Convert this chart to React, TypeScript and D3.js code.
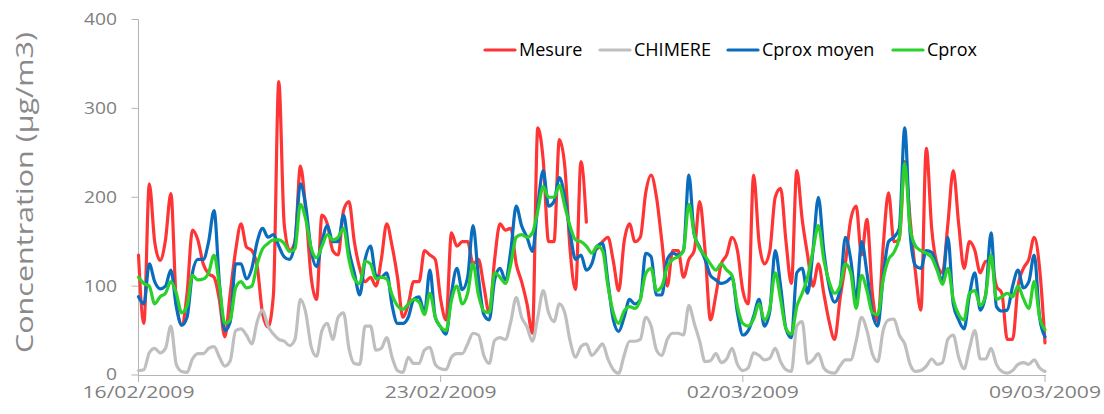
import * as d3 from "d3";

// hourly data resampled every 3 h, 16/02/2009 00:00 -> 09/03/2009 00:00
const START = new Date(2009, 1, 16);
const END = new Date(2009, 2, 9);
const STEP_HOURS = 3;

const X_TICKS = [
  new Date(2009, 1, 16),
  new Date(2009, 1, 23),
  new Date(2009, 2, 2),
  new Date(2009, 2, 9),
];
const Y_TICKS = [0, 100, 200, 300, 400];

const MESURE: (number | null)[] = [
  135, 58, 215, 150, 129, 152, 204, 84, 56, 92, 163, 152, 125, 114, 110, 84, 43, 92, 140, 170,
  144, 140, 122, 69, 54, 90, 330, 170, 140, 150, 235, 185, 110, 85, 180, 170, 140, 135, 185, 195,
  150, 120, 105, 110, 100, 130, 170, 145, 110, 65, 80, 105, 105, 140, 135, 130, 85, 62, 160, 145,
  150, 150, 125, 130, 100, 70, 130, 170, 163, 165, 125, 105, 80, 47, 278, 242, 150, 150, 265, 235,
  140, 96, 240, 172, null, 142, 150, 155, 128, 95, 150, 170, 150, 155, 205, 225, 200, 150, 100, 140,
  140, 110, 130, 140, 195, 140, 62, 90, 125, 135, 155, 140, 95, 80, 225, 150, 125, 140, 200, 210,
  150, 103, 230, 175, 135, 100, 125, 92, 60, 40, 85, 125, 175, 190, 135, 175, 92, 60, 144, 205,
  150, 152, 240, 175, 115, 73, 255, 165, 125, 115, 170, 230, 170, 120, 150, 140, 115, 128, 128, 100,
  92, 40, 40, 100, 120, 130, 155, 120, 36,
];

const CHIMERE = [
  5, 6, 25, 30, 25, 30, 55, 12, 4, 3, 18, 24, 24, 30, 32, 20, 10, 16, 50, 52,
  45, 35, 60, 73, 55, 46, 40, 38, 33, 40, 85, 70, 32, 21, 50, 58, 40, 65, 70, 30,
  13, 12, 55, 55, 28, 30, 42, 20, 5, 3, 20, 13, 13, 28, 31, 12, 7, 6, 20, 24,
  24, 35, 47, 45, 22, 13, 39, 42, 40, 60, 87, 65, 54, 38, 65, 95, 70, 60, 80, 70,
  38, 20, 32, 35, 22, 28, 35, 18, 6, 2, 22, 38, 38, 40, 65, 55, 28, 22, 40, 47,
  47, 45, 78, 58, 38, 15, 16, 24, 14, 18, 30, 12, 5, 8, 25, 22, 17, 19, 30, 15,
  6, 4, 55, 60, 13, 17, 24, 8, 3, 2, 10, 17, 17, 38, 65, 50, 24, 15, 50, 62,
  63, 45, 35, 12, 4, 5, 10, 18, 12, 14, 40, 45, 20, 7, 30, 50, 18, 18, 30, 12,
  4, 2, 5, 12, 14, 12, 17, 8, 4,
];

const CPROX_MOYEN = [
  88, 80, 125, 105, 97, 100, 118, 77, 56, 65, 115, 130, 130, 150, 185, 103, 50, 60, 125, 125,
  108, 120, 150, 165, 155, 158, 145, 133, 130, 150, 215, 190, 140, 122, 150, 168, 150, 150, 180, 140,
  115, 90, 130, 145, 112, 110, 115, 78, 58, 58, 65, 85, 88, 70, 118, 65, 54, 46, 92, 120,
  96, 110, 168, 110, 68, 62, 107, 120, 107, 140, 190, 168, 155, 139, 190, 230, 190, 195, 222, 200,
  160, 130, 135, 118, 125, 145, 148, 105, 62, 49, 65, 85, 80, 85, 137, 133, 90, 90, 130, 137,
  135, 140, 225, 158, 144, 130, 112, 107, 103, 105, 110, 70, 45, 50, 66, 85, 55, 72, 140, 100,
  52, 42, 115, 120, 92, 140, 200, 140, 100, 82, 95, 155, 130, 85, 150, 115, 70, 55, 110, 150,
  155, 165, 278, 160, 123, 120, 140, 138, 122, 105, 155, 80, 62, 52, 90, 115, 73, 90, 160, 77,
  72, 73, 100, 118, 98, 105, 135, 65, 43,
];

const CPROX = [
  110, 103, 100, 80, 88, 92, 105, 92, 70, 78, 112, 107, 108, 115, 135, 100, 58, 62, 98, 105,
  98, 100, 125, 142, 148, 152, 152, 148, 139, 142, 192, 175, 143, 132, 145, 158, 152, 155, 165, 130,
  108, 103, 128, 125, 108, 110, 108, 90, 78, 74, 80, 85, 82, 68, 92, 65, 54, 50, 84, 100,
  80, 92, 125, 90, 72, 70, 115, 110, 103, 125, 155, 158, 155, 160, 185, 212, 200, 200, 213, 190,
  167, 152, 150, 145, 137, 145, 140, 100, 70, 58, 72, 77, 75, 85, 114, 120, 95, 100, 122, 130,
  133, 140, 192, 158, 142, 134, 125, 118, 125, 118, 112, 77, 58, 55, 63, 80, 62, 75, 115, 85,
  52, 46, 77, 92, 110, 140, 168, 130, 105, 92, 100, 125, 115, 75, 112, 95, 70, 68, 107, 130,
  138, 155, 238, 165, 145, 140, 137, 132, 118, 102, 120, 85, 68, 62, 92, 95, 78, 90, 135, 85,
  88, 92, 88, 100, 86, 75, 105, 65, 51,
];

const SERIES = [
  { name: "Mesure", values: MESURE, color: "#ff3535" },
  { name: "CHIMERE", values: CHIMERE, color: "#bfbfbf" },
  { name: "Cprox moyen", values: CPROX_MOYEN, color: "#0a6cbd" },
  { name: "Cprox", values: CPROX, color: "#2bd12b" },
];

const W = 1104;
const H = 414;
const X0 = 138.5;
const X1 = 1045;
const Y0 = 375;
const Y1 = 19.5;
const LEGEND_X = [485, 600, 728, 893];
const LEGEND_Y = 50;
const AXIS_COLOR = "#b4b4b4";
const LABEL_COLOR = "#7f7f7f";
const FONT = "'Open Sans', sans-serif";

export default function App() {
  const dates = MESURE.map((_, i) => d3.timeHour.offset(START, i * STEP_HOURS));
  const x = d3.scaleTime().domain([START, END]).range([X0, X1]);
  const y = d3.scaleLinear().domain([0, 400]).range([Y0, Y1]);
  const fmt = d3.timeFormat("%d/%m/%Y");

  const line = d3
    .line<number | null>()
    .defined((d) => d != null)
    .x((_, i) => x(dates[i]))
    .y((d) => y(d as number))
    .curve(d3.curveMonotoneX);

  return (
    <svg
      width={W}
      height={H}
      style={{ position: "absolute", left: 0, top: 0, background: "#fff" }}
      fontFamily={FONT}
    >
      {/* axes */}
      <line x1={X0} x2={X0} y1={Y1} y2={Y0} stroke={AXIS_COLOR} />
      <line x1={X0} x2={X1 + 1} y1={Y0 + 0.5} y2={Y0 + 0.5} stroke={AXIS_COLOR} />
      {Y_TICKS.map((t) => (
        <g key={`y${t}`} transform={`translate(0,${y(t)})`}>
          <line x1={X0 - 7} x2={X0} stroke={AXIS_COLOR} />
          <text
            x={117}
            dy="0.34em"
            textAnchor="end"
            fontSize={16}
            fill={LABEL_COLOR}
            textLength={String(t).length * 11}
            lengthAdjust="spacingAndGlyphs"
          >
            {t}
          </text>
        </g>
      ))}
      {X_TICKS.map((t) => (
        <g key={`x${+t}`} transform={`translate(${x(t)},0)`}>
          <line y1={Y0} y2={Y0 + 7} stroke={AXIS_COLOR} />
          <text
            y={398}
            textAnchor="middle"
            fontSize={16}
            fill={LABEL_COLOR}
            textLength={112}
            lengthAdjust="spacingAndGlyphs"
          >
            {fmt(t)}
          </text>
        </g>
      ))}
      <text
        transform="translate(33,192.5) rotate(-90)"
        textAnchor="middle"
        fontSize={24}
        fill="#8a8a8a"
        textLength={321}
        lengthAdjust="spacingAndGlyphs"
      >
        Concentration (µg/m3)
      </text>

      {/* series */}
      {SERIES.map((s) => (
        <path
          key={s.name}
          d={line(s.values) ?? ""}
          fill="none"
          stroke={s.color}
          strokeWidth={3.2}
          strokeLinejoin="round"
          strokeLinecap="round"
        />
      ))}

      {/* legend */}
      {SERIES.map((s, i) => (
        <g key={`l${s.name}`} transform={`translate(${LEGEND_X[i]},${LEGEND_Y})`}>
          <line x1={0} x2={30} stroke={s.color} strokeWidth={3.2} strokeLinecap="round" />
          <text x={34} dy="0.36em" fontSize={18} fill="#000">
            {s.name}
          </text>
        </g>
      ))}
    </svg>
  );
}
